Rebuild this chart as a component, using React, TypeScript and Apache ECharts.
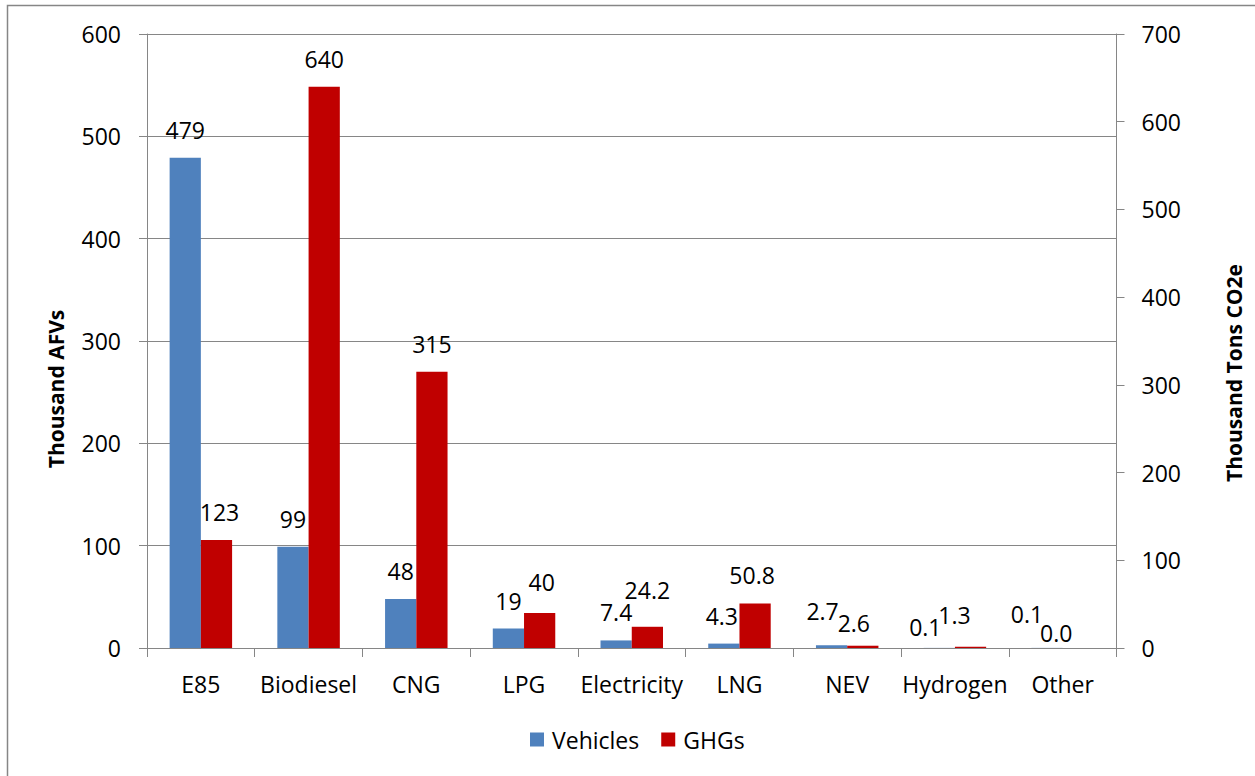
import React, { useEffect, useRef } from "react";
import * as echarts from "echarts";

const categories = ["E85", "Biodiesel", "CNG", "LPG", "Electricity", "LNG", "NEV", "Hydrogen", "Other"];
const vehicles = [479, 99, 48, 19, 7.4, 4.3, 2.7, 0.1, 0.1];
const ghgs = [123, 640, 315, 40, 24.2, 50.8, 2.6, 1.3, 0.0];
const vehicleLabels = ["479", "99", "48", "19", "7.4", "4.3", "2.7", "0.1", "0.1"];
const ghgLabels = ["123", "640", "315", "40", "24.2", "50.8", "2.6", "1.3", "0.0"];
const leftTicks = { min: 0, max: 600, interval: 100 };
const rightTicks = { min: 0, max: 700, interval: 100 };

// label nudges (dx, dy) mimicking the spreadsheet's overlap avoidance
const vehicleLabelShift = [[0, 0], [0, 0], [0, 0], [0, 0], [0, 0], [-2, 0], [-9, -6], [-14, 7], [-20, -6]];
const ghgLabelShift = [[3, 0], [0, 0], [0, 0], [2, -3], [0, -9], [-3, 0], [-9, 5], [-16, -4], [-22, 13]];

const FONT = "'Open Sans', 'Liberation Sans', sans-serif";
const GRAY = "#868686";
const FS = 23;

export default function App() {
  const ref = useRef<HTMLDivElement>(null);
  useEffect(() => {
    if (!ref.current) return;
    const chart = echarts.init(ref.current, null, { renderer: "svg" });
    const mk = (vals: number[], labels: string[], shift: number[][]) =>
      vals.map((v, i) => ({
        value: v,
        label: { offset: shift[i], formatter: labels[i] },
      }));
    const labelBase = {
      show: true,
      position: "top",
      distance: 16.5,
      fontSize: FS,
      lineHeight: FS,
      color: "#000",
      fontFamily: FONT,
    };
    chart.setOption({
      animation: false,
      backgroundColor: "#fff",
      textStyle: { fontFamily: FONT },
      grid: { left: 147, right: 138.5, top: 34, bottom: 128 },
      legend: {
        left: 525,
        top: 723,
        itemWidth: 14,
        itemHeight: 14,
        itemGap: 22,
        icon: "rect",
        textStyle: { fontSize: FS, lineHeight: FS, color: "#000", fontFamily: FONT, padding: [0, 0, 0, 3] },
        data: ["Vehicles", "GHGs"],
      },
      xAxis: {
        type: "category",
        data: categories,
        axisLine: { lineStyle: { color: GRAY, width: 1 } },
        axisTick: { show: true, length: 9, lineStyle: { color: GRAY } },
        axisLabel: { fontSize: FS, lineHeight: FS, color: "#000", margin: 24, fontFamily: FONT, interval: 0 },
      },
      yAxis: [
        {
          type: "value",
          min: leftTicks.min,
          max: leftTicks.max,
          interval: leftTicks.interval,
          axisLine: { show: true, lineStyle: { color: GRAY, width: 1 } },
          axisTick: { show: true, length: 8, lineStyle: { color: GRAY } },
          axisLabel: { fontSize: FS, color: "#000", margin: 26, fontFamily: FONT },
          splitLine: { show: true, lineStyle: { color: GRAY, width: 1 } },
        },
        {
          type: "value",
          min: rightTicks.min,
          max: rightTicks.max,
          interval: rightTicks.interval,
          position: "right",
          axisLine: { show: true, lineStyle: { color: GRAY, width: 1 } },
          axisTick: { show: true, length: 8, lineStyle: { color: GRAY } },
          axisLabel: { fontSize: FS, color: "#000", margin: 25, fontFamily: FONT },
          splitLine: { show: false },
        },
      ],
      series: [
        {
          name: "Vehicles",
          type: "bar",
          yAxisIndex: 0,
          data: mk(vehicles, vehicleLabels, vehicleLabelShift),
          itemStyle: { color: "#4F81BD" },
          barGap: "0%",
          barCategoryGap: "42%",
          label: labelBase,
        },
        {
          name: "GHGs",
          type: "bar",
          yAxisIndex: 1,
          data: mk(ghgs, ghgLabels, ghgLabelShift),
          itemStyle: { color: "#C00000" },
          barGap: "0%",
          barCategoryGap: "42%",
          label: labelBase,
        },
      ],
      graphic: [
        {
          type: "rect",
          shape: { x: 7.5, y: 5.5, width: 1300, height: 800 },
          style: { fill: "none", stroke: GRAY, lineWidth: 1.5 },
          silent: true,
          z: -10,
        },
        {
          type: "text",
          x: 56,
          y: 389,
          rotation: Math.PI / 2,
          style: {
            text: "Thousand AFVs",
            fontSize: 21,
            fontWeight: "bold",
            fontFamily: FONT,
            fill: "#000",
            textAlign: "center",
            textVerticalAlign: "middle",
          },
        },
        {
          type: "text",
          x: 1234,
          y: 373,
          rotation: Math.PI / 2,
          style: {
            text: "Thousand Tons CO2e",
            fontSize: 21,
            fontWeight: "bold",
            fontFamily: FONT,
            fill: "#000",
            textAlign: "center",
            textVerticalAlign: "middle",
          },
        },
      ],
    });
    return () => chart.dispose();
  }, []);
  return <div ref={ref} style={{ position: "absolute", left: 0, top: 0, width: 1255, height: 776 }} />;
}
